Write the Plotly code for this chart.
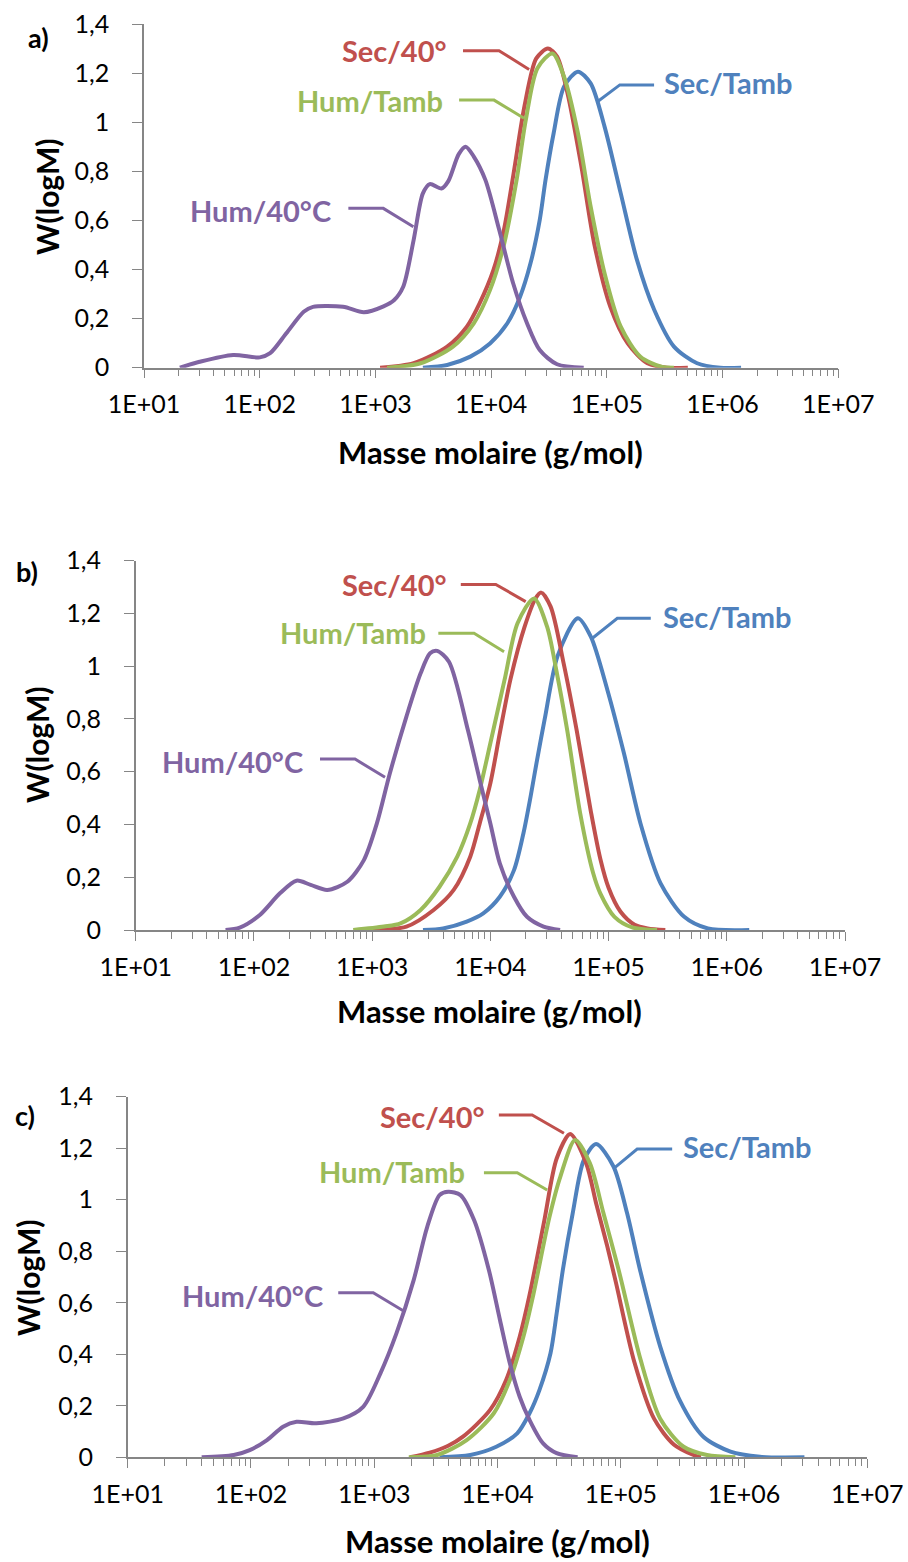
import plotly.graph_objects as go

# ---- Molar-mass distributions, W(logM) vs log10(M) ----
# Panel a
a_hum40_logm = [1.31, 1.48, 1.77, 2.00, 2.09, 2.23, 2.38, 2.46, 2.72, 2.90, 3.07, 3.16, 3.24, 3.33, 3.41,
                3.47, 3.57, 3.63, 3.72, 3.78, 3.85, 3.95, 4.07, 4.19, 4.31, 4.42, 4.57, 4.80]
a_hum40_w = [0.0, 0.024, 0.052, 0.042, 0.059, 0.14, 0.228, 0.248, 0.248, 0.226, 0.25, 0.275, 0.33, 0.52, 0.71,
             0.748, 0.73, 0.76, 0.87, 0.90, 0.86, 0.765, 0.561, 0.344, 0.181, 0.072, 0.014, 0.0]
a_sec40_logm = [3.04, 3.33, 3.62, 3.79, 3.90, 4.02, 4.11, 4.19, 4.29, 4.39, 4.49, 4.57, 4.66, 4.78, 4.89,
                5.03, 5.18, 5.35, 5.52, 5.70]
a_sec40_w = [0.0, 0.018, 0.086, 0.167, 0.262, 0.398, 0.561, 0.78, 1.07, 1.26, 1.30, 1.267, 1.118, 0.819, 0.507,
             0.248, 0.099, 0.018, 0.0, 0.0]
a_humtamb_logm = [3.10, 3.39, 3.67, 3.85, 3.99, 4.11, 4.22, 4.30, 4.40, 4.53, 4.63, 4.75, 4.86, 4.98, 5.12,
                  5.29, 5.47, 5.58]
a_humtamb_w = [0.0, 0.018, 0.086, 0.181, 0.316, 0.50, 0.765, 1.01, 1.22, 1.28, 1.185, 0.955, 0.656, 0.385, 0.167,
               0.045, 0.004, 0.0]
a_sectamb_logm = [3.41, 3.62, 3.82, 3.99, 4.14, 4.25, 4.34, 4.42, 4.47, 4.54, 4.63, 4.75, 4.86, 4.98, 5.12,
                  5.26, 5.41, 5.58, 5.78, 5.98, 6.16]
a_sectamb_w = [0.0, 0.011, 0.045, 0.099, 0.181, 0.289, 0.425, 0.602, 0.765, 0.955, 1.145, 1.206, 1.158, 0.982, 0.71,
               0.439, 0.235, 0.086, 0.018, 0.0, 0.0]

# Panel b
b_hum40_logm = [1.76, 1.88, 2.05, 2.22, 2.36, 2.48, 2.62, 2.79, 2.93, 3.04, 3.15, 3.29, 3.41, 3.49, 3.55,
                3.65, 3.81, 3.91, 4.00, 4.08, 4.20, 4.31, 4.45, 4.59]
b_hum40_w = [0.0, 0.009, 0.057, 0.139, 0.187, 0.171, 0.152, 0.183, 0.265, 0.404, 0.594, 0.809, 0.973, 1.049, 1.058,
             1.017, 0.758, 0.569, 0.404, 0.253, 0.126, 0.05, 0.013, 0.0]
b_humtamb_logm = [2.84, 3.10, 3.24, 3.41, 3.57, 3.72, 3.83, 3.91, 4.00, 4.12, 4.23, 4.37, 4.48, 4.56, 4.65,
                  4.76, 4.87, 4.93, 5.05, 5.20, 5.41]
b_humtamb_w = [0.0, 0.013, 0.025, 0.076, 0.164, 0.278, 0.404, 0.531, 0.708, 0.948, 1.163, 1.257, 1.15, 0.98, 0.758,
               0.442, 0.215, 0.139, 0.05, 0.01, 0.0]
b_sec40_logm = [2.98, 3.29, 3.52, 3.69, 3.83, 3.91, 4.00, 4.08, 4.17, 4.29, 4.38, 4.43, 4.51, 4.62, 4.73,
                4.85, 4.93, 5.00, 5.10, 5.22, 5.33, 5.48]
b_sec40_w = [0.0, 0.013, 0.076, 0.152, 0.278, 0.404, 0.556, 0.746, 0.95, 1.15, 1.255, 1.279, 1.226, 1.011, 0.758,
             0.45, 0.27, 0.16, 0.07, 0.02, 0.006, 0.0]
b_sectamb_logm = [3.43, 3.60, 3.80, 3.94, 4.08, 4.20, 4.28, 4.34, 4.39, 4.46, 4.57, 4.74, 4.85, 4.99, 5.13,
                  5.27, 5.44, 5.64, 5.84, 6.19]
b_sectamb_w = [0.0, 0.006, 0.032, 0.063, 0.126, 0.227, 0.367, 0.505, 0.632, 0.80, 1.04, 1.182, 1.112, 0.91, 0.67,
               0.404, 0.177, 0.05, 0.006, 0.0]

# Panel c
c_hum40_logm = [1.60, 1.86, 1.99, 2.13, 2.26, 2.37, 2.53, 2.75, 2.91, 3.05, 3.18, 3.32, 3.43, 3.53, 3.60,
                3.70, 3.81, 3.93, 4.02, 4.10, 4.18, 4.26, 4.37, 4.48, 4.65]
c_hum40_w = [0.0, 0.009, 0.028, 0.067, 0.119, 0.138, 0.132, 0.151, 0.196, 0.326, 0.481, 0.688, 0.895, 1.018, 1.031,
             1.018, 0.921, 0.727, 0.533, 0.365, 0.235, 0.145, 0.054, 0.016, 0.0]
c_humtamb_logm = [3.28, 3.51, 3.75, 3.97, 4.10, 4.21, 4.29, 4.42, 4.51, 4.63, 4.75, 4.86, 4.99, 5.16,
                  5.32, 5.51, 5.70, 5.93]
c_humtamb_w = [0.0, 0.009, 0.067, 0.171, 0.30, 0.468, 0.63, 0.93, 1.09, 1.232, 1.141, 0.947, 0.714, 0.38,
               0.15, 0.041, 0.009, 0.0]
c_sec40_logm = [3.29, 3.45, 3.60, 3.72, 3.94, 4.07, 4.18, 4.26, 4.38, 4.48, 4.59, 4.72, 4.80, 4.89,
                4.96, 5.11, 5.27, 5.43, 5.59, 5.65]
c_sec40_w = [0.0, 0.018, 0.045, 0.08, 0.184, 0.30, 0.468, 0.63, 0.92, 1.16, 1.255, 1.141, 0.986, 0.82,
             0.68, 0.37, 0.15, 0.05, 0.009, 0.0]
c_sectamb_logm = [3.53, 3.78, 3.99, 4.16, 4.26, 4.34, 4.43, 4.48, 4.53, 4.61, 4.70, 4.80, 4.94, 5.05, 5.16,
                  5.32, 5.48, 5.67, 5.89, 6.13, 6.49]
c_sectamb_w = [0.0, 0.009, 0.041, 0.093, 0.171, 0.261, 0.404, 0.559, 0.727, 0.947, 1.154, 1.216, 1.13, 0.95, 0.72,
               0.43, 0.22, 0.08, 0.022, 0.002, 0.0]

# Axis ticks
x_tickvals = [1e1, 1e2, 1e3, 1e4, 1e5, 1e6, 1e7]
x_ticktext = ["1E+01", "1E+02", "1E+03", "1E+04", "1E+05", "1E+06", "1E+07"]
y_tickvals = [0, 0.2, 0.4, 0.6, 0.8, 1.0, 1.2, 1.4]
y_ticktext = ["0", "0,2", "0,4", "0,6", "0,8", "1", "1,2", "1,4"]

series_names = ["Sec/Tamb", "Sec/40°", "Hum/Tamb", "Hum/40°C"]
colors = {"Sec/Tamb": "#4F81BD", "Sec/40°": "#C0504D", "Hum/Tamb": "#9BBB59", "Hum/40°C": "#8064A2"}

W_PX, H_PX = 908, 1562
AXIS_GREY = "#868686"
FONT = "Lato, Carlito, Calibri, sans-serif"

panels = [
    {
        "letter": "a)",
        "box": (144, 838.3, 24, 367.7),  # left, right, top, bottom in px
        "data": {
            "Sec/Tamb": (a_sectamb_logm, a_sectamb_w),
            "Sec/40°": (a_sec40_logm, a_sec40_w),
            "Hum/Tamb": (a_humtamb_logm, a_humtamb_w),
            "Hum/40°C": (a_hum40_logm, a_hum40_w),
        },
        # label anchor (log10 M, W, xanchor) and leader polyline (log10 M list, W list)
        "labels": {
            "Sec/40°": ((3.636, 1.294, "right"), ([3.757, 4.068, 4.328], [1.291, 1.291, 1.215])),
            "Hum/Tamb": ((3.602, 1.09, "right"), ([3.723, 4.025, 4.284], [1.09, 1.09, 1.016])),
            "Sec/Tamb": ((5.477, 1.161, "left"), ([5.408, 5.112, 4.918], [1.152, 1.152, 1.083])),
            "Hum/40°C": ((2.634, 0.642, "right"), ([2.766, 3.068, 3.328], [0.649, 0.649, 0.574])),
        },
        "letter_pos": (38, 37),
        "xtitle_pos": (490, 452),
        "ytitle_pos": (47, 197),
    },
    {
        "letter": "b)",
        "box": (135.7, 845, 560.7, 930),
        "data": {
            "Sec/Tamb": (b_sectamb_logm, b_sectamb_w),
            "Sec/40°": (b_sec40_logm, b_sec40_w),
            "Hum/Tamb": (b_humtamb_logm, b_humtamb_w),
            "Hum/40°C": (b_hum40_logm, b_hum40_w),
        },
        "labels": {
            "Sec/40°": ((3.651, 1.308, "right"), ([3.750, 4.046, 4.299], [1.310, 1.310, 1.245])),
            "Hum/Tamb": ((3.475, 1.127, "right"), ([3.560, 3.862, 4.116], [1.125, 1.125, 1.055])),
            "Sec/Tamb": ((5.442, 1.188, "left"), ([5.357, 5.074, 4.863], [1.182, 1.182, 1.106])),
            "Hum/40°C": ((2.432, 0.638, "right"), ([2.559, 2.855, 3.109], [0.648, 0.648, 0.579])),
        },
        "letter_pos": (27, 571),
        "xtitle_pos": (489, 1011),
        "ytitle_pos": (37, 745),
    },
    {
        "letter": "c)",
        "box": (127.7, 867.3, 1096.7, 1457.3),
        "data": {
            "Sec/Tamb": (c_sectamb_logm, c_sectamb_w),
            "Sec/40°": (c_sec40_logm, c_sec40_w),
            "Hum/Tamb": (c_humtamb_logm, c_humtamb_w),
            "Hum/40°C": (c_hum40_logm, c_hum40_w),
        },
        "labels": {
            "Sec/40°": ((3.916, 1.325, "right"), ([4.011, 4.281, 4.539], [1.329, 1.329, 1.258])),
            "Hum/Tamb": ((3.754, 1.109, "right"), ([3.890, 4.160, 4.403], [1.105, 1.105, 1.038])),
            "Sec/Tamb": ((5.485, 1.206, "left"), ([5.417, 5.133, 4.944], [1.197, 1.197, 1.122])),
            "Hum/40°C": ((2.600, 0.630, "right"), ([2.708, 2.992, 3.235], [0.639, 0.639, 0.569])),
        },
        "letter_pos": (25, 1115),
        "xtitle_pos": (497, 1541),
        "ytitle_pos": (28, 1278),
    },
]

fig = go.Figure()
layout = dict(
    width=W_PX, height=H_PX,
    margin=dict(l=0, r=0, t=0, b=0, autoexpand=False),
    paper_bgcolor="white", plot_bgcolor="white",
    showlegend=False,
    font=dict(family=FONT, color="black"),
)
annotations = []


def px_x(x):
    return x / W_PX


def px_y(y):
    return 1 - y / H_PX


for i, p in enumerate(panels):
    n = "" if i == 0 else str(i + 1)
    xa, ya = "x" + n, "y" + n
    left, right, top, bottom = p["box"]
    layout["xaxis" + n] = dict(
        type="log", range=[1, 7], domain=[px_x(left), px_x(right)], anchor=ya,
        tickvals=x_tickvals, ticktext=x_ticktext,
        ticks="outside", ticklen=9, tickwidth=1.3, tickcolor=AXIS_GREY,
        minor=dict(ticks="outside", ticklen=7, tickwidth=1.3, tickcolor=AXIS_GREY, dtick="D1", showgrid=False),
        showline=True, linecolor=AXIS_GREY, linewidth=1.5,
        showgrid=False, zeroline=False, automargin=False,
        tickfont=dict(family=FONT, size=25, color="black"),
        ticklabelstandoff=5,
    )
    layout["yaxis" + n] = dict(
        range=[0, 1.4], domain=[px_y(bottom), px_y(top)], anchor=xa,
        tickvals=y_tickvals, ticktext=y_ticktext,
        ticks="outside", ticklen=10, tickwidth=1.3, tickcolor=AXIS_GREY,
        showline=True, linecolor=AXIS_GREY, linewidth=1.5,
        showgrid=False, zeroline=False, automargin=False,
        tickfont=dict(family=FONT, size=25, color="black"),
        ticklabelstandoff=18,
    )

    for name in series_names:
        logm, w = p["data"][name]
        fig.add_trace(go.Scatter(
            x=[10 ** v for v in logm], y=w, xaxis=xa, yaxis=ya, mode="lines",
            line=dict(color=colors[name], width=4, shape="spline", smoothing=0.8),
            name=name, hoverinfo="skip",
        ))

    for name in series_names:
        (lx, ly, anchor), (lead_x, lead_y) = p["labels"][name]
        fig.add_trace(go.Scatter(
            x=[10 ** v for v in lead_x], y=lead_y, xaxis=xa, yaxis=ya, mode="lines",
            line=dict(color=colors[name], width=3), hoverinfo="skip",
        ))
        annotations.append(dict(
            x=lx, y=ly, xref=xa, yref=ya, text="<b>%s</b>" % name, showarrow=False,
            xanchor=anchor, yanchor="middle",
            font=dict(family=FONT, size=29, color=colors[name]),
        ))

    lx, ly = p["letter_pos"]
    annotations.append(dict(x=px_x(lx), y=px_y(ly), xref="paper", yref="paper", text="<b>%s</b>" % p["letter"],
                            showarrow=False, xanchor="center", yanchor="middle",
                            font=dict(family=FONT, size=27, color="black")))
    tx, ty = p["xtitle_pos"]
    annotations.append(dict(x=px_x(tx), y=px_y(ty), xref="paper", yref="paper",
                            text="<b>Masse molaire (g/mol)</b>", showarrow=False,
                            xanchor="center", yanchor="middle",
                            font=dict(family=FONT, size=31, color="black")))
    tx, ty = p["ytitle_pos"]
    annotations.append(dict(x=px_x(tx), y=px_y(ty), xref="paper", yref="paper",
                            text="<b>W(logM)</b>", showarrow=False, textangle=-90,
                            xanchor="center", yanchor="middle",
                            font=dict(family=FONT, size=30, color="black")))

layout["annotations"] = annotations
fig.update_layout(**layout)
fig.write_html("out.html")
